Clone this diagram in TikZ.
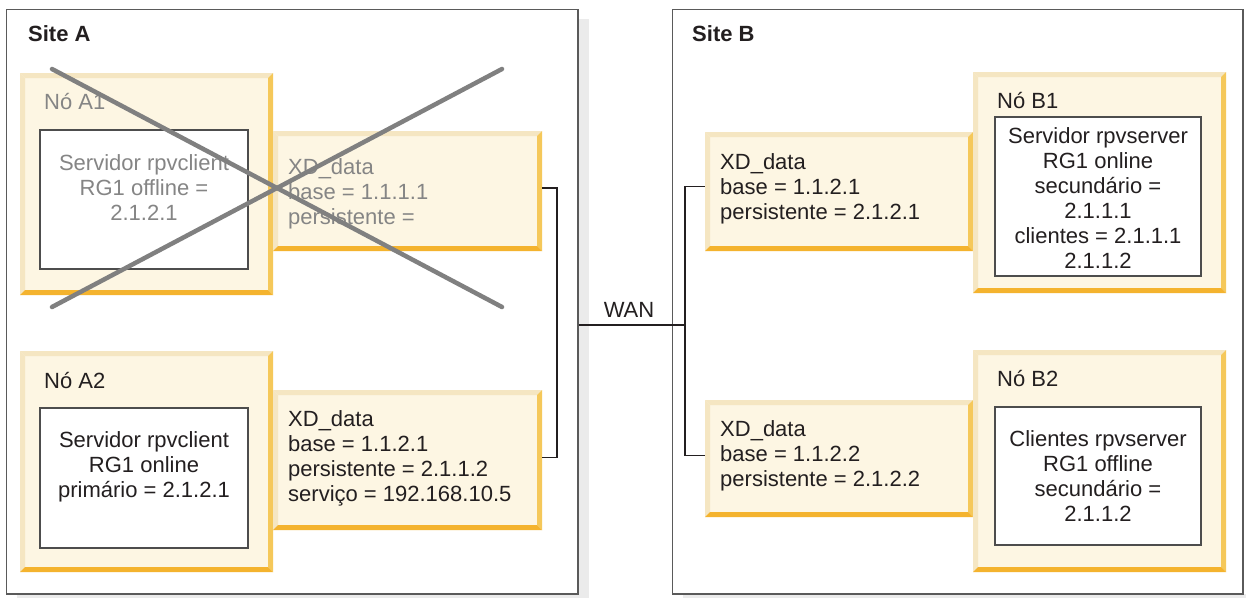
\documentclass[tikz,border=0pt]{standalone}
\usepackage{fontspec}
\setmainfont{Liberation Sans}
\usetikzlibrary{fit}

\definecolor{cream}{HTML}{FDF6E3}
\definecolor{bevlight}{HTML}{F5E6C2}
\definecolor{bevright}{HTML}{F5C85A}
\definecolor{bevbottom}{HTML}{F4B32E}
\definecolor{sitegrey}{HTML}{5A5A5A}
\definecolor{shadowgrey}{HTML}{EBEBEB}
\definecolor{boxgrey}{HTML}{4D4D4D}
\definecolor{ink}{HTML}{231F20}
\definecolor{dimtext}{HTML}{858585}
\definecolor{xgrey}{HTML}{808080}

\begin{document}
\begin{tikzpicture}[x=1pt,y=-1pt,
  site/.style={rectangle, inner sep=0pt, draw=sitegrey, line width=1.4pt, fill=white},
  bevel/.style={rectangle, inner sep=0pt, fill=cream,
    path picture={
      \def\pb{path picture bounding box}
      \fill[bevlight] (\pb.north west) -- (\pb.north east)
        -- ([shift={(-5pt,-5pt)}]\pb.north east) -- ([shift={(5pt,-5pt)}]\pb.north west) -- cycle;
      \fill[bevlight] (\pb.north west) -- (\pb.south west)
        -- ([shift={(5pt,5pt)}]\pb.south west) -- ([shift={(5pt,-5pt)}]\pb.north west) -- cycle;
      \fill[bevright] (\pb.north east) -- (\pb.south east)
        -- ([shift={(-5pt,5pt)}]\pb.south east) -- ([shift={(-5pt,-5pt)}]\pb.north east) -- cycle;
      \fill[bevbottom] (\pb.south west) -- (\pb.south east)
        -- ([shift={(-5pt,5pt)}]\pb.south east) -- ([shift={(5pt,5pt)}]\pb.south west) -- cycle;
    }},
  inbox/.style={rectangle, inner sep=0pt, draw=boxgrey, line width=1.4pt, fill=white},
  txt/.style={font=\fontsize{22}{25}\selectfont, inner sep=0pt, text=ink},
  title/.style={font=\fontsize{22}{25}\selectfont\bfseries, inner sep=0pt, text=ink},
  lines/.style={txt, anchor=north west, align=left},
  clines/.style={txt, anchor=north, align=center},
  dim/.style={text=dimtext},
  wire/.style={draw=ink, line width=1.4pt},
  cross/.style={draw=xgrey, line width=4.5pt, line cap=round}]

\useasboundingbox (0,0) rectangle (1246,598);

% drop shadows of the two sites
\fill[shadowgrey] (578,19) rectangle (589,598);
\fill[shadowgrey] (17,594) rectangle (589,598);
\fill[shadowgrey] (683,594) rectangle (1246,598);

% sites
\node[site, fit={(6.5,9.5) (578,594)}] (siteA) {};
\node[site, fit={(672.5,9.5) (1243,594)}] (siteB) {};
\node[title, anchor=base west] (labA) at (28,41) {Site A};
\node[title, anchor=base west] (labB) at (692,41) {Site B};

% Site A, node A1 (failed)
\node[bevel, fit={(20,73) (273,295)}] (nodeA1) {};
\node[bevel, fit={(273,131) (542,251)}] (xdA1) {};
\node[inbox, fit={(40,130) (248,269)}] (inA1) {};
\node[txt, dim, anchor=base west] (labA1) at (44,109) {Nó A1};
\node[clines, dim] (srvA1) at (144,152.5) {\strut Servidor rpvclient\\RG1 offline =\\2.1.2.1};
\node[lines, dim] (txtA1) at (288,156.5) {\strut XD\_data\\base = 1.1.1.1\\persistente =};

% Site A, node A2
\node[bevel, fit={(20,351) (273,572)}] (nodeA2) {};
\node[bevel, fit={(273,390) (542,530)}] (xdA2) {};
\node[inbox, fit={(40,408) (248,548)}] (inA2) {};
\node[txt, anchor=base west] (labA2) at (44,388) {Nó A2};
\node[clines] (srvA2) at (144,429.5) {\strut Servidor rpvclient\\RG1 online\\primário = 2.1.2.1};
\node[lines] (txtA2) at (288,408.5) {\strut XD\_data\\base = 1.1.2.1\\persistente = 2.1.1.2\\serviço = 192.168.10.5};

% Site B, node B1
\node[bevel, fit={(705,132) (973,251)}] (xdB1) {};
\node[bevel, fit={(973,72) (1226,293)}] (nodeB1) {};
\node[inbox, fit={(995,117) (1201,276)}] (inB1) {};
\node[txt, anchor=base west] (labB1) at (997,108) {Nó B1};
\node[clines] (srvB1) at (1098,125.5) {\strut Servidor rpvserver\\RG1 online\\secundário =\\2.1.1.1\\clientes = 2.1.1.1\\2.1.1.2};
\node[lines] (txtB1) at (720,151.5) {\strut XD\_data\\base = 1.1.2.1\\persistente = 2.1.2.1};

% Site B, node B2
\node[bevel, fit={(705,400) (973,517)}] (xdB2) {};
\node[bevel, fit={(973,350) (1226,572)}] (nodeB2) {};
\node[inbox, fit={(995,407) (1201,545)}] (inB2) {};
\node[txt, anchor=base west] (labB2) at (997,386) {Nó B2};
\node[clines] (srvB2) at (1098,428.5) {\strut Clientes rpvserver\\RG1 offline\\secundário =\\2.1.1.2};
\node[lines] (txtB2) at (720,418.5) {\strut XD\_data\\base = 1.1.2.2\\persistente = 2.1.2.2};

% WAN links
\coordinate (busA) at (557,325);
\coordinate (busB) at (685,325);
\draw[wire] ([yshift=3pt]xdA1.east) -| (busA) |- ([yshift=2.5pt]xdA2.east);
\draw[wire] (siteA.east |- busB) -- (busB);
\draw[wire] ([yshift=5pt]xdB1.west) -| (busB) |- ([yshift=3pt]xdB2.west);
\node[txt, anchor=base] (wan) at (629,317) {WAN};

% node A1 crossed out
\coordinate (xNW) at (52,69);
\coordinate (xNE) at (502,69);
\coordinate (xSW) at (52,307);
\coordinate (xSE) at (502,307);
\draw[cross] (xNW) -- (xSE);
\draw[cross] (xNE) -- (xSW);
\end{tikzpicture}
\end{document}
